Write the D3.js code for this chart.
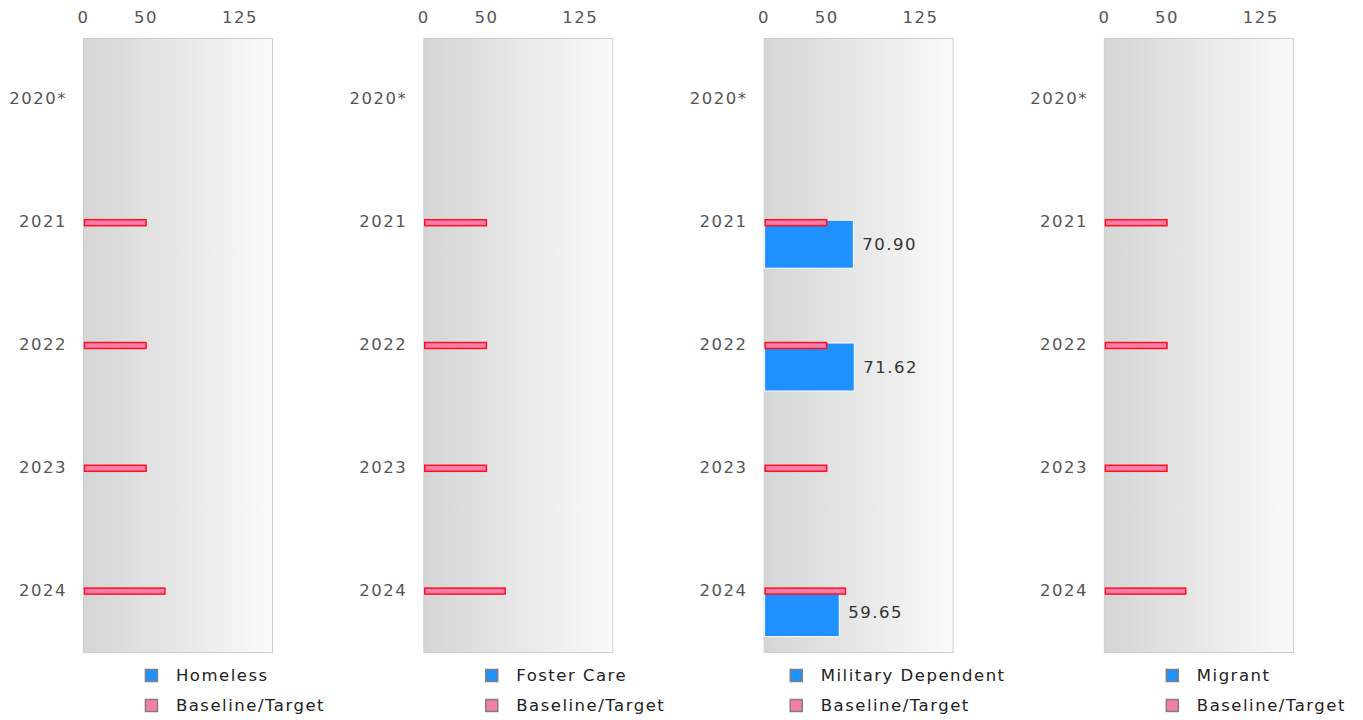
<!DOCTYPE html>
<html>
<head>
<meta charset="utf-8">
<script src="https://cdn.jsdelivr.net/npm/d3@7"></script>
<style>
  body { margin: 0; background: #fff; }
  text { font-family: "DejaVu Sans", sans-serif; font-size: 16.5px; letter-spacing: 1.5px; }
</style>
</head>
<body>
<script>
// chart data
const years = ["2020*", "2021", "2022", "2023", "2024"];
const groups = ["Homeless", "Foster Care", "Military Dependent", "Migrant"];
const homeless = [null, null, null, null, null];
const fosterCare = [null, null, null, null, null];
const militaryDependent = [null, 70.90, 71.62, null, 59.65];
const migrant = [null, null, null, null, null];
const baselineTarget = [null, 50, 50, 50, 65];
const tickValues = [0, 50, 125];

const seriesByGroup = [homeless, fosterCare, militaryDependent, migrant];

const W = 1363, H = 720;
const svg = d3.select("body").append("svg").attr("width", W).attr("height", H);

const grad = svg.append("defs").append("linearGradient").attr("id", "bg")
  .attr("x1", "0").attr("x2", "1").attr("y1", "0").attr("y2", "0");
grad.append("stop").attr("offset", "0").attr("stop-color", "#d5d5d5");
grad.append("stop").attr("offset", "1").attr("stop-color", "#fafafa");

const plotW = 189, plotTop = 38, plotBottom = 652;

groups.forEach((g, gi) => {
  const left = 83 + gi * 340.3;
  const x = d3.scaleLinear().domain([0, 151]).range([left, left + plotW]);
  const y = d3.scaleBand().domain(years).range([plotTop, plotBottom]);
  const panel = svg.append("g");

  panel.append("rect")
    .attr("x", left + 0.5).attr("y", plotTop + 0.5)
    .attr("width", plotW).attr("height", plotBottom - plotTop)
    .attr("fill", "url(#bg)").attr("stroke", "#cfcfcf");

  // top axis labels
  const ax = panel.append("g").attr("transform", `translate(0,23)`)
    .call(d3.axisTop(x).tickValues(tickValues).tickSize(0).tickPadding(0));
  ax.select(".domain").remove();
  ax.selectAll("text").attr("fill", "#555").attr("dy", "0");

  // category labels
  const ay = panel.append("g").attr("transform", `translate(${left - 16},0)`)
    .call(d3.axisLeft(y).tickSize(0).tickPadding(0));
  ay.select(".domain").remove();
  ay.selectAll("text").attr("fill", "#555").attr("dy", "0.3em");

  const vals = seriesByGroup[gi];
  const mid = d => y(d) + y.bandwidth() / 2;

  // value bars
  panel.selectAll(".val").data(years.map((yr, i) => ({ yr, v: vals[i] })).filter(d => d.v != null))
    .join("rect").attr("class", "val")
    .attr("x", x(0) + 1).attr("y", d => mid(d.yr) - 2)
    .attr("width", d => x(d.v) - x(0)).attr("height", 48)
    .attr("fill", "#1e90ff").attr("stroke", "#fff").attr("stroke-width", 1);

  panel.selectAll(".lbl").data(years.map((yr, i) => ({ yr, v: vals[i] })).filter(d => d.v != null))
    .join("text").attr("class", "lbl")
    .attr("x", d => x(d.v) + 10).attr("y", d => mid(d.yr) + 22)
    .attr("dy", "0.35em").attr("fill", "#333")
    .text(d => d3.format(".2f")(d.v));

  // baseline/target bars
  panel.selectAll(".base").data(years.map((yr, i) => ({ yr, v: baselineTarget[i] })).filter(d => d.v != null))
    .join("rect").attr("class", "base")
    .attr("x", x(0) + 1.5).attr("y", d => mid(d.yr) - 2.5)
    .attr("width", d => x(d.v) - x(0) - 1).attr("height", 6)
    .attr("fill", "#f57eab").attr("stroke", "#ff1020").attr("stroke-width", 1.5);

  // legend, right-aligned
  const items = [{ name: g, color: "#1e90ff" }, { name: "Baseline/Target", color: "#f57eab" }];
  const lg = panel.append("g");
  const texts = lg.selectAll("text").data(items).join("text")
    .attr("y", (d, i) => 675 + i * 30).attr("dy", "0.35em").attr("fill", "#222")
    .text(d => d.name);
  let maxW = 0;
  texts.each(function () { maxW = Math.max(maxW, this.getComputedTextLength()); });
  const lx = left + 242 - maxW - 31;
  texts.attr("x", lx + 31);
  lg.selectAll("rect").data(items).join("rect")
    .attr("x", lx + 0.5).attr("y", (d, i) => 669 + i * 30 + 0.5)
    .attr("width", 12).attr("height", 12)
    .attr("fill", d => d.color).attr("stroke", "#808080").attr("stroke-width", 1.5);
});
</script>
</body>
</html>
